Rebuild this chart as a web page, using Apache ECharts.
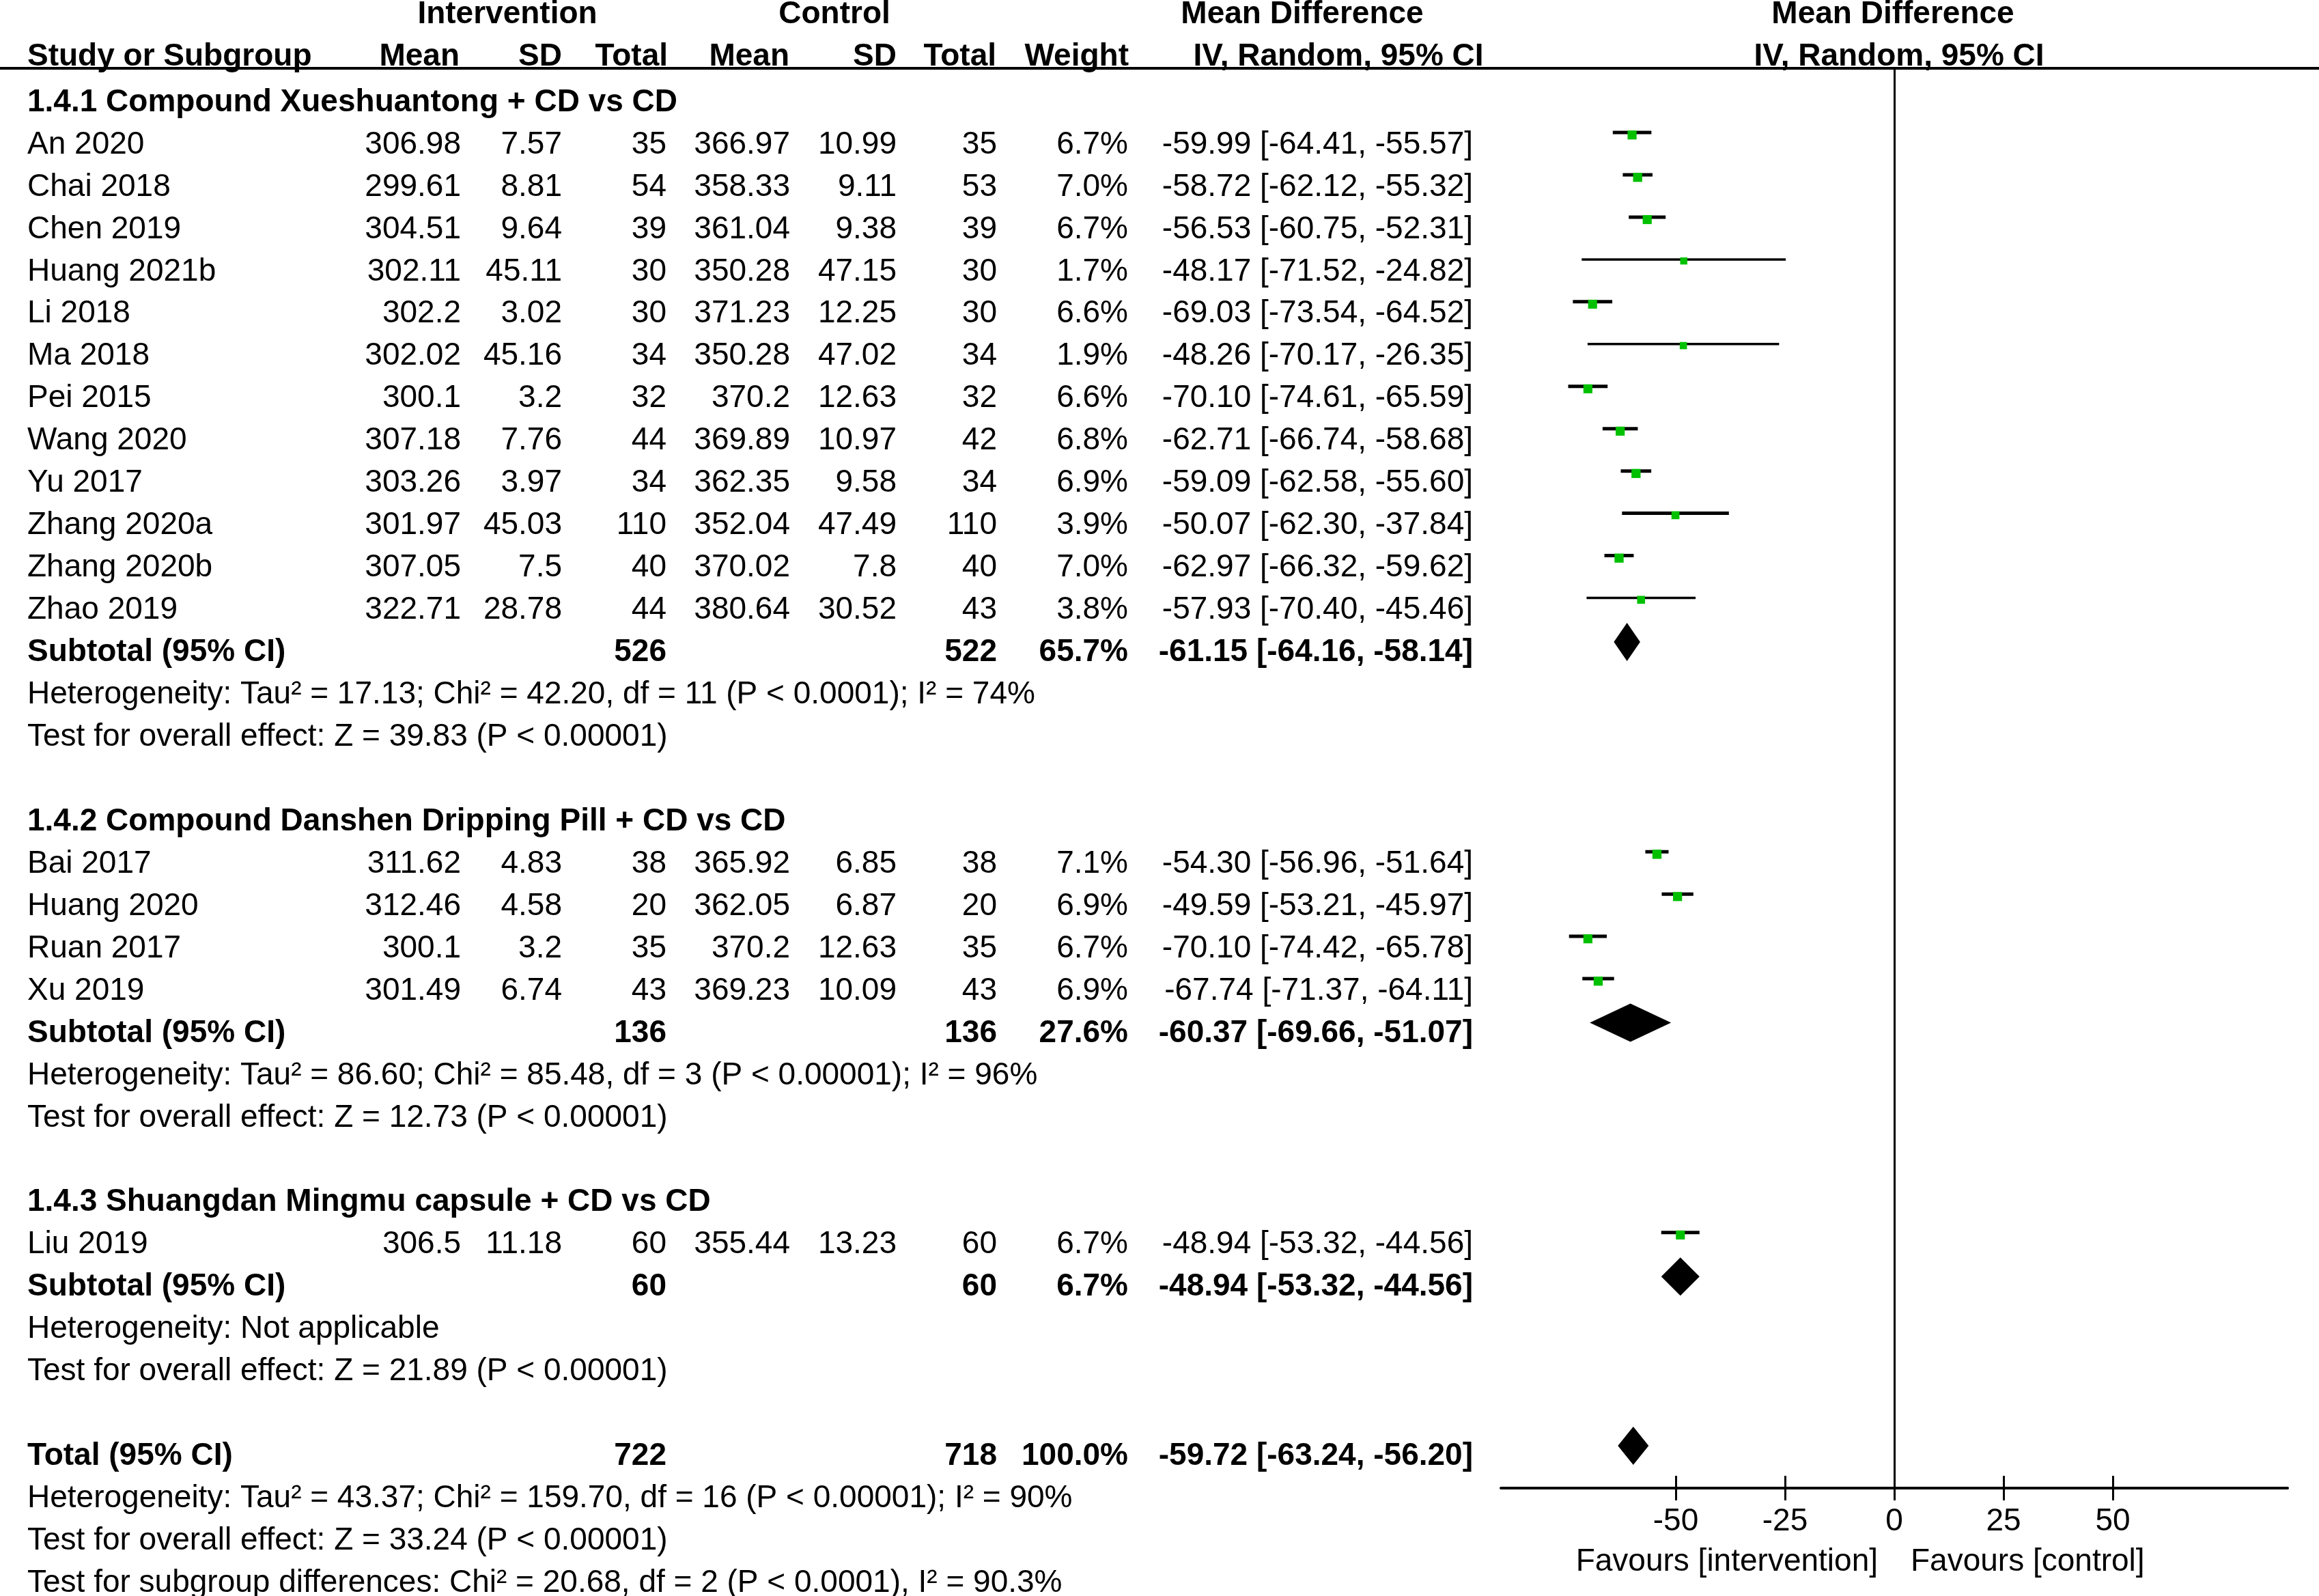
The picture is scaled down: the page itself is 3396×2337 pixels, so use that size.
<!DOCTYPE html>
<html>
<head>
<meta charset="utf-8">
<title>Forest plot</title>
<script src="https://cdn.jsdelivr.net/npm/echarts@6/dist/echarts.min.js"></script>
<style>
html, body {margin: 0; padding: 0; background: #fff;}
#main {width: 3396px; height: 2337px;}
</style>
</head>
<body>
<div id="main"></div>
<script>
// ---- data ----
var groupTitles = [
    '1.4.1 Compound Xueshuantong + CD vs CD',
    '1.4.2 Compound Danshen Dripping Pill + CD vs CD',
    '1.4.3 Shuangdan Mingmu capsule + CD vs CD'
];
var studyGroup = [0, 0, 0, 0, 0, 0, 0, 0, 0, 0, 0, 0, 1, 1, 1, 1, 2];
var studyNames = ['An 2020', 'Chai 2018', 'Chen 2019', 'Huang 2021b', 'Li 2018', 'Ma 2018', 'Pei 2015',
    'Wang 2020', 'Yu 2017', 'Zhang 2020a', 'Zhang 2020b', 'Zhao 2019',
    'Bai 2017', 'Huang 2020', 'Ruan 2017', 'Xu 2019', 'Liu 2019'];
var expMean = [306.98, 299.61, 304.51, 302.11, 302.2, 302.02, 300.1, 307.18, 303.26, 301.97, 307.05, 322.71,
    311.62, 312.46, 300.1, 301.49, 306.5];
var expSD = [7.57, 8.81, 9.64, 45.11, 3.02, 45.16, 3.2, 7.76, 3.97, 45.03, 7.5, 28.78,
    4.83, 4.58, 3.2, 6.74, 11.18];
var expTotal = [35, 54, 39, 30, 30, 34, 32, 44, 34, 110, 40, 44, 38, 20, 35, 43, 60];
var ctlMean = [366.97, 358.33, 361.04, 350.28, 371.23, 350.28, 370.2, 369.89, 362.35, 352.04, 370.02, 380.64,
    365.92, 362.05, 370.2, 369.23, 355.44];
var ctlSD = [10.99, 9.11, 9.38, 47.15, 12.25, 47.02, 12.63, 10.97, 9.58, 47.49, 7.8, 30.52,
    6.85, 6.87, 12.63, 10.09, 13.23];
var ctlTotal = [35, 53, 39, 30, 30, 34, 32, 42, 34, 110, 40, 43, 38, 20, 35, 43, 60];
var weights = [6.7, 7.0, 6.7, 1.7, 6.6, 1.9, 6.6, 6.8, 6.9, 3.9, 7.0, 3.8, 7.1, 6.9, 6.7, 6.9, 6.7];
var md = [-59.99, -58.72, -56.53, -48.17, -69.03, -48.26, -70.10, -62.71, -59.09, -50.07, -62.97, -57.93,
    -54.30, -49.59, -70.10, -67.74, -48.94];
var ciLow = [-64.41, -62.12, -60.75, -71.52, -73.54, -70.17, -74.61, -66.74, -62.58, -62.30, -66.32, -70.40,
    -56.96, -53.21, -74.42, -71.37, -53.32];
var ciHigh = [-55.57, -55.32, -52.31, -24.82, -64.52, -26.35, -65.59, -58.68, -55.60, -37.84, -59.62, -45.46,
    -51.64, -45.97, -65.78, -64.11, -44.56];

var subExpTotal = [526, 136, 60];
var subCtlTotal = [522, 136, 60];
var subWeight = [65.7, 27.6, 6.7];
var subMd = [-61.15, -60.37, -48.94];
var subLow = [-64.16, -69.66, -53.32];
var subHigh = [-58.14, -51.07, -44.56];
var subHetero = [
    'Heterogeneity: Tau² = 17.13; Chi² = 42.20, df = 11 (P < 0.0001); I² = 74%',
    'Heterogeneity: Tau² = 86.60; Chi² = 85.48, df = 3 (P < 0.00001); I² = 96%',
    'Heterogeneity: Not applicable'
];
var subEffect = [
    'Test for overall effect: Z = 39.83 (P < 0.00001)',
    'Test for overall effect: Z = 12.73 (P < 0.00001)',
    'Test for overall effect: Z = 21.89 (P < 0.00001)'
];

var totalExp = 722;
var totalCtl = 718;
var totalWeight = 100.0;
var totalMd = -59.72;
var totalLow = -63.24;
var totalHigh = -56.20;
var totalHetero = 'Heterogeneity: Tau² = 43.37; Chi² = 159.70, df = 16 (P < 0.00001); I² = 90%';
var totalEffect = 'Test for overall effect: Z = 33.24 (P < 0.00001)';
var subgroupTest = 'Test for subgroup differences: Chi² = 20.68, df = 2 (P < 0.0001), I² = 90.3%';

var axisTicks = [-50, -25, 0, 25, 50];
var favourLabels = ['Favours [intervention]', 'Favours [control]'];

// ---- layout ----
var W = 3396, H = 2337;
var ROW0 = 212, ROWH = 61.95;     // pixel centre of first study row, row pitch
var RULE_Y = 99, AXIS_Y = 2179;
var PLOT_LEFT = 2198, PLOT_RIGHT = 3350;
var LINE_SHIFT = -0.29;           // CI lines sit a bit above the text centre
var DIAMOND_SHIFT = -0.25;
var FONT = '"Liberation Sans", Arial, sans-serif';
var FS = 46;

var col = {
    study: 40, expMean: 675, expSD: 823, expTotal: 976, ctlMean: 1157, ctlSD: 1313,
    ctlTotal: 1460, weight: 1652, ci: 2157
};

function toRow(py) { return (py - ROW0) / ROWH; }

var cells = [];
function addCell(x, row, text, align, bold) {
    cells.push({x: x, y: row, text: String(text), align: align, bold: !!bold});
}
function ciText(m, lo, hi) {
    return m.toFixed(2) + ' [' + lo.toFixed(2) + ', ' + hi.toFixed(2) + ']';
}

// header
var h1 = toRow(21), h2 = toRow(83);
addCell(743, h1, 'Intervention', 'center', true);
addCell(1222, h1, 'Control', 'center', true);
addCell(1907, h1, 'Mean Difference', 'center', true);
addCell(2772, h1, 'Mean Difference', 'center', true);
addCell(col.study, h2, 'Study or Subgroup', 'left', true);
addCell(673, h2, 'Mean', 'right', true);
addCell(col.expSD, h2, 'SD', 'right', true);
addCell(978, h2, 'Total', 'right', true);
addCell(1156, h2, 'Mean', 'right', true);
addCell(col.ctlSD, h2, 'SD', 'right', true);
addCell(1459, h2, 'Total', 'right', true);
addCell(1653, h2, 'Weight', 'right', true);
addCell(1960, h2, 'IV, Random, 95% CI', 'center', true);
addCell(2781, h2, 'IV, Random, 95% CI', 'center', true);

var studyMarks = [];
var diamonds = [];
var r = -1;
for (var g = 0; g < groupTitles.length; g++) {
    addCell(col.study, r, groupTitles[g], 'left', true);
    r++;
    for (var i = 0; i < studyNames.length; i++) {
        if (studyGroup[i] !== g) continue;
        addCell(col.study, r, studyNames[i], 'left');
        addCell(col.expMean, r, expMean[i], 'right');
        addCell(col.expSD, r, expSD[i], 'right');
        addCell(col.expTotal, r, expTotal[i], 'right');
        addCell(col.ctlMean, r, ctlMean[i], 'right');
        addCell(col.ctlSD, r, ctlSD[i], 'right');
        addCell(col.ctlTotal, r, ctlTotal[i], 'right');
        addCell(col.weight, r, weights[i].toFixed(1) + '%', 'right');
        addCell(col.ci, r, ciText(md[i], ciLow[i], ciHigh[i]), 'right');
        studyMarks.push([md[i], r + LINE_SHIFT, ciLow[i], ciHigh[i], weights[i]]);
        r++;
    }
    addCell(col.study, r, 'Subtotal (95% CI)', 'left', true);
    addCell(col.expTotal, r, subExpTotal[g], 'right', true);
    addCell(col.ctlTotal, r, subCtlTotal[g], 'right', true);
    addCell(col.weight, r, subWeight[g].toFixed(1) + '%', 'right', true);
    addCell(col.ci, r, ciText(subMd[g], subLow[g], subHigh[g]), 'right', true);
    diamonds.push([subMd[g], r + DIAMOND_SHIFT, subLow[g], subHigh[g]]);
    r++;
    addCell(col.study, r, subHetero[g], 'left');
    r++;
    addCell(col.study, r, subEffect[g], 'left');
    r += 2;
}
addCell(col.study, r, 'Total (95% CI)', 'left', true);
addCell(col.expTotal, r, totalExp, 'right', true);
addCell(col.ctlTotal, r, totalCtl, 'right', true);
addCell(col.weight, r, totalWeight.toFixed(1) + '%', 'right', true);
addCell(col.ci, r, ciText(totalMd, totalLow, totalHigh), 'right', true);
diamonds.push([totalMd, r + DIAMOND_SHIFT, totalLow, totalHigh]);
r++;
addCell(col.study, r, totalHetero, 'left');
r++;
addCell(col.study, r, totalEffect, 'left');
r++;
addCell(col.study, r, subgroupTest, 'left');

// favours labels under the axis
var favRow = toRow(2287);
addCell(2750, favRow, favourLabels[0], 'right');
addCell(2798, favRow, favourLabels[1], 'left');

// y ranges so both grids share the same row pitch
var textMin = toRow(0), textMax = toRow(H);
var plotMin = toRow(RULE_Y), plotMax = toRow(AXIS_Y);

var option = {
    animation: false,
    backgroundColor: '#fff',
    grid: [
        {left: 0, right: 0, top: 0, bottom: 0},
        {left: PLOT_LEFT, right: W - PLOT_RIGHT, top: RULE_Y, bottom: H - AXIS_Y}
    ],
    xAxis: [
        {gridIndex: 0, type: 'value', min: 0, max: W, show: false},
        {
            gridIndex: 1, type: 'value', min: -90, max: 90, position: 'bottom',
            axisLine: {show: true, onZero: false, lineStyle: {color: '#000', width: 4}},
            axisTick: {show: true, length: 18, customValues: axisTicks, lineStyle: {color: '#000', width: 3}},
            axisLabel: {show: true, customValues: axisTicks, margin: 26, color: '#000', fontSize: FS, fontFamily: FONT},
            splitLine: {show: false}
        },
        {
            gridIndex: 1, type: 'value', min: -90, max: 90, position: 'bottom',
            axisLine: {show: false, onZero: false},
            axisTick: {show: true, inside: true, length: 18, customValues: axisTicks, lineStyle: {color: '#000', width: 3}},
            axisLabel: {show: false},
            splitLine: {show: false}
        }
    ],
    yAxis: [
        {gridIndex: 0, type: 'value', inverse: true, min: textMin, max: textMax, show: false},
        {gridIndex: 1, type: 'value', inverse: true, min: plotMin, max: plotMax, show: false}
    ],
    series: [
        {
            name: 'table',
            type: 'custom',
            xAxisIndex: 0,
            yAxisIndex: 0,
            silent: true,
            clip: false,
            data: cells.map(function (c) { return [c.x, c.y]; }),
            renderItem: function (params, api) {
                var c = cells[params.dataIndex];
                var p = api.coord([api.value(0), api.value(1)]);
                return {
                    type: 'text',
                    x: p[0],
                    y: p[1],
                    style: {
                        text: c.text,
                        textAlign: c.align,
                        textVerticalAlign: 'middle',
                        font: (c.bold ? 'bold ' : '') + FS + 'px ' + FONT,
                        fill: '#000'
                    }
                };
            },
            markLine: {
                silent: true,
                symbol: ['none', 'none'],
                label: {show: false},
                lineStyle: {color: '#000', width: 4, type: 'solid'},
                data: [{yAxis: toRow(RULE_Y)}]
            }
        },
        {
            name: 'studies',
            type: 'custom',
            xAxisIndex: 1,
            yAxisIndex: 1,
            silent: true,
            data: studyMarks,
            encode: {x: 0, y: 1},
            renderItem: function (params, api) {
                var y = api.value(1);
                var w = api.value(4);
                var a = api.coord([api.value(2), y]);
                var b = api.coord([api.value(3), y]);
                var c = api.coord([api.value(0), y]);
                var s = 9.5 + 0.55 * w;
                return {
                    type: 'group',
                    children: [
                        {
                            type: 'line',
                            shape: {x1: a[0], y1: a[1], x2: b[0], y2: b[1]},
                            style: {stroke: '#000', lineWidth: w >= 3.9 ? 5 : 3.5}
                        },
                        {
                            type: 'rect',
                            shape: {x: c[0] - s / 2, y: c[1] - 3, width: s, height: s},
                            style: {fill: '#00c000'}
                        }
                    ]
                };
            },
            markLine: {
                silent: true,
                symbol: ['none', 'none'],
                label: {show: false},
                lineStyle: {color: '#000', width: 3, type: 'solid'},
                data: [{xAxis: 0}]
            }
        },
        {
            name: 'pooled',
            type: 'custom',
            xAxisIndex: 1,
            yAxisIndex: 1,
            silent: true,
            data: diamonds,
            encode: {x: 0, y: 1},
            renderItem: function (params, api) {
                var y = api.value(1);
                var lo = api.coord([api.value(2), y]);
                var hi = api.coord([api.value(3), y]);
                var m = api.coord([api.value(0), y]);
                var hh = 28;
                return {
                    type: 'polygon',
                    shape: {points: [[lo[0], lo[1]], [m[0], m[1] - hh], [hi[0], hi[1]], [m[0], m[1] + hh]]},
                    style: {fill: '#000'}
                };
            }
        }
    ]
};

var chart = echarts.init(document.getElementById('main'));
chart.setOption(option);
</script>
</body>
</html>
